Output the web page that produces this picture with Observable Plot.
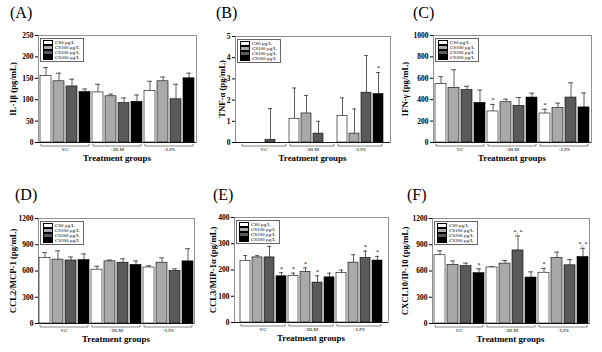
<!DOCTYPE html>
<html><head><meta charset="utf-8">
<script src="https://cdn.jsdelivr.net/npm/d3@7"></script>
<script src="https://cdn.jsdelivr.net/npm/@observablehq/plot@0.6"></script>
<style>
body{margin:0;background:#fff;}
#root{position:relative;width:602px;height:352px;overflow:hidden;font-family:"Liberation Serif","DejaVu Serif",serif;color:#000;}
.panel{position:absolute;}
.panel svg{position:absolute;left:0;top:0;}
.plabel{position:absolute;font-size:16px;line-height:16px;white-space:nowrap;}
.ylab{position:absolute;font-weight:bold;font-size:8.7px;line-height:9px;white-space:nowrap;transform:translate(-50%,-50%) rotate(-90deg);}
.xlab{position:absolute;font-weight:bold;font-size:8.9px;line-height:9px;white-space:nowrap;transform:translateX(-50%);}
.legend{position:absolute;border:0.7px solid #666;background:#fff;padding:1px 3px 1px 2px;}
.legend .row{display:flex;align-items:center;height:5px;font-size:5px;line-height:5px;white-space:nowrap;}
.legend .sw{width:8px;height:3px;border:0.6px solid #000;margin-right:2px;flex:none;}
</style></head>
<body><div id="root"></div>
<script>
const groups = ["VC", "+BLM", "+LPS"];
const series = ["CS0 μg/L", "CS100 μg/L", "CS200 μg/L", "CS300 μg/L"];
const seriesColors = ["#ffffff", "#a9a9a9", "#5a5a5a", "#000000"];
const panelLetters = ["(A)", "(B)", "(C)", "(D)", "(E)", "(F)"];
const yLabels = ["IL-1β (pg/mL)", "TNF-α (pg/mL)", "IFN-γ (pg/mL)", "CCL2/MCP-1 (pg/mL)", "CCL3/MIP-1α (pg/mL)", "CXCL10/IP-10 (pg/mL)"];
const xLabel = "Treatment groups";
const yMax = [250, 5, 1000, 1200, 400, 1200];
const yTicks = [[0,50,100,150,200,250],[0,1,2,3,4,5],[0,200,400,600,800,1000],[0,300,600,900,1200],[0,100,200,300,400],[0,300,600,900,1200]];

// values ordered: VC(CS0,CS100,CS200,CS300), +BLM(...), +LPS(...)
const il1bMean = [155,143,131,118, 117,108,92,95, 120,143,101,150];
const il1bErr  = [20,19,17,7, 19,5,12,16, 23,10,35,12];
const il1bSig  = ["","","","", "","","","", "","","",""];

const tnfMean = [0,0,0.13,0, 1.12,1.37,0.42,0, 1.25,0.42,2.35,2.28];
const tnfErr  = [0,0,1.47,0, 1.45,0.85,0.58,0, 0.85,1.16,1.75,1.02];
const tnfSig  = ["","","","", "","","","", "","","","*"];

const ifnMean = [545,510,490,370, 290,376,342,420, 271,321,420,328];
const ifnErr  = [70,170,35,120, 66,29,78,41, 40,47,138,135];
const ifnSig  = ["","","","", "*","","","", "*","","",""];

const mcpMean = [750,730,720,725, 615,710,695,670, 640,695,600,710];
const mcpErr  = [60,100,40,70, 40,15,45,45, 20,55,25,145];
const mcpSig  = ["","","","", "","","","", "","","",""];

const mipMean = [235,248,248,176, 178,192,152,172, 188,228,246,236];
const mipErr  = [20,7,42,14, 10,16,26,16, 12,30,26,16];
const mipSig  = ["","","","*", "*","*","*","", "","","*","*"];

const cxclMean = [780,670,655,575, 640,685,835,525, 580,750,665,760];
const cxclErr  = [50,45,35,50, 8,35,165,65, 50,65,65,100];
const cxclSig  = ["","","","*", "","","*, *","", "*","","","*, *"];

const means = [il1bMean, tnfMean, ifnMean, mcpMean, mipMean, cxclMean];
const errs = [il1bErr, tnfErr, ifnErr, mcpErr, mipErr, cxclErr];
const sigs = [il1bSig, tnfSig, ifnSig, mcpSig, mipSig, cxclSig];

// layout (pixels)
const layout = [
  {left:0,   top:0,   w:200, h:176, ml:38, mr:4,  mt:35, mb:34, lx:10, ly:5,  yx:13},
  {left:200, top:0,   w:200, h:176, ml:35, mr:10, mt:36, mb:34, lx:16, ly:5,  yx:22},
  {left:400, top:0,   w:202, h:176, ml:33, mr:11, mt:35, mb:34, lx:13, ly:5,  yx:5},
  {left:0,   top:176, w:200, h:176, ml:38, mr:6,  mt:42, mb:29, lx:15, ly:11, yx:13},
  {left:200, top:176, w:200, h:176, ml:34, mr:12, mt:41, mb:30, lx:13, ly:11, yx:13},
  {left:400, top:176, w:202, h:176, ml:32, mr:13, mt:42, mb:29, lx:7,  ly:11, yx:5}
];

const keys = groups.flatMap(g => series.map(s => g + "|" + s));
const root = document.getElementById("root");

function bracketMark(index, scales) {
  const sx = scales.x, sy = scales.y;
  let bw = typeof sx.bandwidth === "function" ? sx.bandwidth() : sx.bandwidth;
  if (bw == null) bw = 0;
  const y0 = sy(0) + 4;
  const g = d3.create("svg:g");
  for (const grp of groups) {
    const x1 = sx(grp + "|" + series[0]) + 1;
    const x2 = sx(grp + "|" + series[series.length - 1]) + bw - 1;
    g.append("path")
      .attr("d", `M${x1},${y0 - 2}V${y0}H${x2}V${y0 - 2}`)
      .attr("fill", "none").attr("stroke", "#555").attr("stroke-width", 0.7);
    g.append("text")
      .attr("x", (x1 + x2) / 2).attr("y", y0 + 5)
      .attr("text-anchor", "middle")
      .attr("font-size", 5).attr("font-weight", "normal")
      .text(grp);
  }
  return g.node();
}

layout.forEach((L, i) => {
  const data = [];
  groups.forEach((g, gi) => series.forEach((s, si) => {
    const k = gi * series.length + si;
    data.push({key: g + "|" + s, group: g, series: s, value: means[i][k], err: errs[i][k], top: means[i][k] + errs[i][k], sig: sigs[i][k]});
  }));

  const panel = document.createElement("div");
  panel.className = "panel";
  panel.style.left = L.left + "px"; panel.style.top = L.top + "px";
  panel.style.width = L.w + "px"; panel.style.height = L.h + "px";

  const chart = Plot.plot({
    width: L.w, height: L.h,
    marginLeft: L.ml, marginRight: L.mr, marginTop: L.mt, marginBottom: L.mb,
    style: {fontFamily: "'Liberation Serif', serif", fontWeight: "bold", fontSize: "7.5px", background: "transparent", overflow: "visible"},
    x: {domain: keys, paddingInner: 0.16, paddingOuter: 0.06, axis: null},
    y: {domain: [0, yMax[i]], ticks: yTicks[i], tickFormat: d => String(d), tickSize: 3, tickPadding: 2, label: null},
    color: {domain: series, range: seriesColors},
    marks: [
      Plot.frame({stroke: "#777", strokeWidth: 0.8}),
      Plot.ruleX(data.filter(d => d.err > 0), {x: "key", y1: "value", y2: "top", stroke: "#333", strokeWidth: 0.8}),
      Plot.tickY(data.filter(d => d.err > 0), {x: "key", y: "top", stroke: "#333", strokeWidth: 0.8, insetLeft: 3, insetRight: 3}),
      Plot.barY(data.filter(d => d.value > 0), {x: "key", y: "value", fill: "series", stroke: "#000", strokeWidth: 0.6}),
      Plot.ruleY([0], {stroke: "#000", strokeWidth: 0.8}),
      Plot.text(data.filter(d => d.sig), {x: "key", y: "top", text: "sig", dy: -4, fontSize: 6, fontWeight: "normal"}),
      bracketMark
    ]
  });
  panel.appendChild(chart);

  const letter = document.createElement("div");
  letter.className = "plabel";
  letter.style.left = L.lx + "px"; letter.style.top = L.ly + "px";
  letter.textContent = panelLetters[i];
  panel.appendChild(letter);

  const ylab = document.createElement("div");
  ylab.className = "ylab";
  ylab.style.left = L.yx + "px";
  ylab.style.top = (L.mt + (L.h - L.mb)) / 2 + "px";
  ylab.textContent = yLabels[i];
  panel.appendChild(ylab);

  const xlab = document.createElement("div");
  xlab.className = "xlab";
  xlab.style.left = (L.ml + (L.w - L.mr)) / 2 + "px";
  xlab.style.top = (L.h - L.mb + 12) + "px";
  xlab.textContent = xLabel;
  panel.appendChild(xlab);

  const leg = document.createElement("div");
  leg.className = "legend";
  leg.style.left = (L.ml + 2) + "px";
  leg.style.top = (L.mt + 3) + "px";
  series.forEach((s, si) => {
    const row = document.createElement("div");
    row.className = "row";
    const sw = document.createElement("span");
    sw.className = "sw";
    sw.style.background = seriesColors[si];
    const t = document.createElement("span");
    t.textContent = s;
    row.appendChild(sw); row.appendChild(t);
    leg.appendChild(row);
  });
  panel.appendChild(leg);

  root.appendChild(panel);
});
</script>
</body></html>
